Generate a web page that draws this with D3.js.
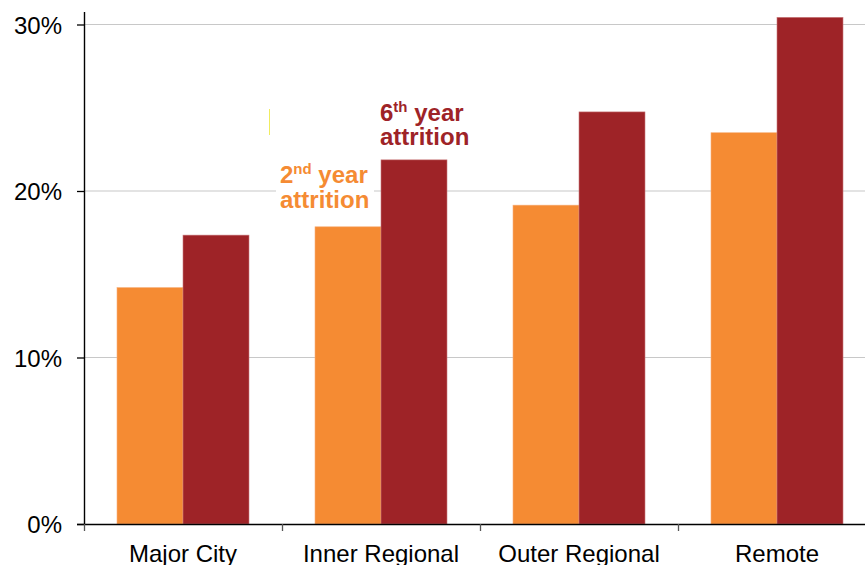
<!DOCTYPE html>
<html><head><meta charset="utf-8">
<script src="https://cdn.jsdelivr.net/npm/d3@7"></script>
<style>body{margin:0;background:#fff}svg{display:block;font-family:"Liberation Sans",Arial,sans-serif}</style>
</head><body><svg id="c" width="865" height="565"></svg>
<script>
const categories = ["Major City","Inner Regional","Outer Regional","Remote"];
const series = ["2nd year attrition","6th year attrition"];
const secondYear = [0.142, 0.1785, 0.1915, 0.235];
const sixthYear = [0.1735, 0.2187, 0.2475, 0.3043];
const yTicks = [0, 0.1, 0.2, 0.3];
const colors = ["#F58B33","#9E2327"];

const svg = d3.select("#c");
const x0 = d3.scaleBand().domain(categories).range([84, 876]).padding(0);
const x1 = d3.scaleBand().domain(series).range([0, x0.bandwidth()]).paddingInner(0).paddingOuter(0.5);
const y = d3.scaleLinear().domain([0, 0.3]).range([524, 24.5]);

// gridlines
svg.append("g").selectAll("line").data(yTicks.filter(d=>d>0)).join("line")
  .attr("x1",84).attr("x2",865).attr("y1",d=>y(d)).attr("y2",d=>y(d))
  .attr("stroke","#c8c8c8").attr("stroke-width",1.2);

// bars
const data = categories.map((c,i)=>({c, vals:[secondYear[i], sixthYear[i]]}));
const g = svg.append("g");
data.forEach(d=>{
  d.vals.forEach((v,j)=>{
    g.append("rect")
      .attr("x", x0(d.c)+x1(series[j]))
      .attr("y", y(v))
      .attr("width", x1.bandwidth())
      .attr("height", y(0)-y(v))
      .attr("fill", colors[j])
      .attr("stroke", j===0 ? "#f7b07a" : "#c97a7c")
      .attr("stroke-width", 0.6);
  });
});

// y axis
const yAxis = d3.axisLeft(y).tickValues(yTicks).tickFormat(d3.format(".0%")).tickSize(7).tickPadding(15);
const ya = svg.append("g").attr("transform","translate(84,0)").call(yAxis);
ya.select(".domain").remove();
ya.selectAll(".tick line").attr("stroke","#000").attr("stroke-width",1.3);
ya.selectAll("text").attr("font-size",24).attr("fill","#000").attr("dy","0.36em")
  .attr("font-family","Liberation Sans, Arial, sans-serif");
svg.append("line").attr("x1",84.5).attr("x2",84.5).attr("y1",12).attr("y2",524).attr("stroke","#000").attr("stroke-width",1.4);

// x axis
svg.append("line").attr("x1",77).attr("x2",865).attr("y1",524.5).attr("y2",524.5).attr("stroke","#000").attr("stroke-width",1.4);
const xTickPos = categories.map(c=>x0(c));
svg.append("g").selectAll("line").data(xTickPos).join("line")
  .attr("x1",d=>d+0.5).attr("x2",d=>d+0.5).attr("y1",524).attr("y2",531)
  .attr("stroke","#555").attr("stroke-width",1.3);
svg.append("g").selectAll("text").data(categories).join("text")
  .attr("x",d=>x0(d)+x0.bandwidth()/2).attr("y",562)
  .attr("text-anchor","middle").attr("font-size",24).attr("fill","#000").text(d=>d);

// annotations
svg.append("rect").attr("x",276).attr("y",160).attr("width",98).attr("height",56).attr("fill","#fff");
function ann(xp, y1, y2, num, sup, color){
  const t = svg.append("text").attr("x",xp).attr("y",y1).attr("font-size",24).attr("font-weight","bold").attr("fill",color);
  t.append("tspan").text(num);
  t.append("tspan").attr("font-size",15).attr("dy",-9).text(sup);
  t.append("tspan").attr("dy",9).text(" year");
  svg.append("text").attr("x",xp).attr("y",y2).attr("font-size",24).attr("font-weight","bold").attr("fill",color).text("attrition");
}
ann(380, 121, 145, "6", "th", colors[1]);
ann(280, 183, 208, "2", "nd", colors[0]);
svg.append("line").attr("x1",269.5).attr("x2",269.5).attr("y1",109).attr("y2",135).attr("stroke","#f0ec60").attr("stroke-width",1);
</script></body></html>
